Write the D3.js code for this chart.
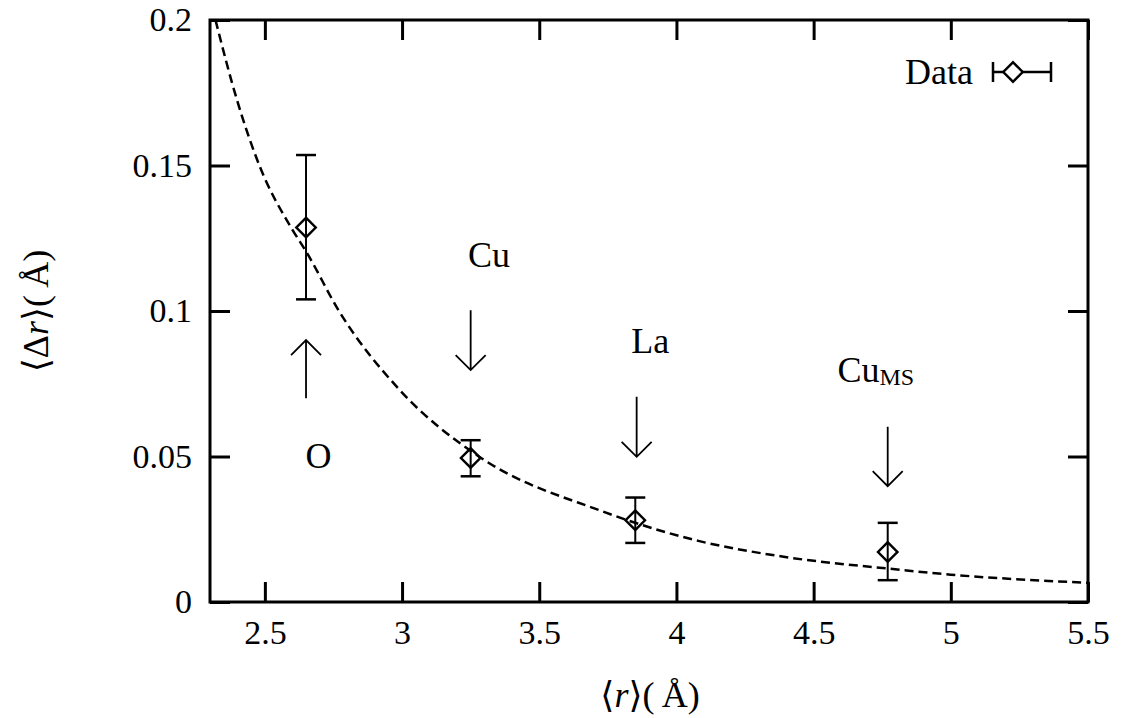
<!DOCTYPE html>
<html>
<head>
<meta charset="utf-8">
<script src="https://cdn.jsdelivr.net/npm/d3@7"></script>
<style>
  body { margin: 0; background: #fff; }
  svg text { fill: #000; }
</style>
</head>
<body>
<div class="chart"></div>
<script>
// data
var pointX = [2.65, 3.25, 3.85, 4.77];
var pointY = [0.1287, 0.0495, 0.0281, 0.0172];
var errLow = [0.104, 0.0432, 0.0203, 0.0075];
var errHigh = [0.1536, 0.0556, 0.0359, 0.0272];

// dashed fit curve, read point by point
var fitX = [2.32, 2.40, 2.48, 2.60, 2.65, 2.77, 2.99, 3.28, 3.72, 4.08, 4.38, 4.77, 5.00, 5.50];
var fitY = [0.200, 0.172, 0.150, 0.128, 0.1205, 0.100, 0.073, 0.050, 0.0315, 0.021, 0.0157, 0.0115, 0.0094, 0.0066];

var xTicks = [2.5, 3, 3.5, 4, 4.5, 5, 5.5];
var xTickLabels = ["2.5", "3", "3.5", "4", "4.5", "5", "5.5"];
var yTicks = [0, 0.05, 0.1, 0.15, 0.2];
var yTickLabels = ["0", "0.05", "0.1", "0.15", "0.2"];

// site annotations (data units)
var siteNames = ["O", "Cu", "La", "Cu"];
var siteSubs = ["", "", "", "MS"];
var siteLabelX = [2.648, 3.24, 3.835, 4.587];
var siteLabelY = [0.046, 0.1151, 0.0854, 0.0756];
var arrowX = [2.65, 3.25, 3.855, 4.77];
var arrowFrom = [0.070, 0.1003, 0.0705, 0.0602];
var arrowTo = [0.090, 0.0797, 0.0499, 0.0398];

var serif = "'Liberation Serif', 'DejaVu Serif', 'Times New Roman', 'Noto Serif', 'Nimbus Roman', 'FreeSerif', Times, serif";

var svgWidth = 1128;
var svgHeight = 718;
var margin = {top: 20, right: 40, bottom: 116, left: 210};
var width = svgWidth - margin.left - margin.right;
var height = svgHeight - margin.top - margin.bottom;

var svg = d3.select(".chart")
  .append("svg")
  .attr("width", svgWidth)
  .attr("height", svgHeight)
  .attr("font-family", serif);

var chartGroup = svg.append("g")
  .attr("transform", `translate(${margin.left},${margin.top})`);

var xScale = d3.scaleLinear().domain([2.3, 5.5]).range([0, width]);
var yScale = d3.scaleLinear().domain([0, 0.2]).range([height, 0]);

// axes, ticks pointing inwards on all four sides
var bottomAxis = d3.axisBottom(xScale).tickValues(xTicks)
  .tickFormat((d, i) => xTickLabels[i]).tickSizeInner(-20).tickSizeOuter(0).tickPadding(18);
var topAxis = d3.axisTop(xScale).tickValues(xTicks)
  .tickFormat("").tickSizeInner(-20).tickSizeOuter(0);
var leftAxis = d3.axisLeft(yScale).tickValues(yTicks)
  .tickFormat((d, i) => yTickLabels[i]).tickSizeInner(-20).tickSizeOuter(0).tickPadding(18);
var rightAxis = d3.axisRight(yScale).tickValues(yTicks)
  .tickFormat("").tickSizeInner(-20).tickSizeOuter(0);

function styleAxis(g) {
  g.attr("font-family", serif).attr("font-size", 34);
  g.select(".domain").remove();
  g.selectAll(".tick line").attr("stroke", "#000").attr("stroke-width", 3);
}

chartGroup.append("g").attr("transform", `translate(0, ${height})`).call(bottomAxis).call(styleAxis);
chartGroup.append("g").call(topAxis).call(styleAxis);
chartGroup.append("g").call(leftAxis).call(styleAxis);
chartGroup.append("g").attr("transform", `translate(${width}, 0)`).call(rightAxis).call(styleAxis);

chartGroup.append("rect")
  .attr("width", width).attr("height", height)
  .attr("fill", "none").attr("stroke", "#000").attr("stroke-width", 3);

// fit curve
chartGroup.append("clipPath").attr("id", "plotClip")
  .append("rect").attr("width", width).attr("height", height);

var fitLine = d3.line()
  .x(d => xScale(d[0]))
  .y(d => yScale(d[1]))
  .curve(d3.curveMonotoneX);

chartGroup.append("path")
  .datum(d3.zip(fitX, fitY))
  .attr("clip-path", "url(#plotClip)")
  .attr("d", fitLine)
  .attr("fill", "none")
  .attr("stroke", "#000")
  .attr("stroke-width", 2.5)
  .attr("stroke-dasharray", "9,5");

// error bars + diamonds
var points = pointX.map((x, i) => ({x: x, y: pointY[i], lo: errLow[i], hi: errHigh[i]}));
var diamond = d3.symbol().type(d3.symbolSquare).size(190);
var capW = 10;

var bars = chartGroup.selectAll(".err")
  .data(points)
  .enter()
  .append("g")
  .attr("class", "err")
  .attr("stroke", "#000")
  .attr("fill", "none");

bars.append("line")
  .attr("x1", d => xScale(d.x)).attr("x2", d => xScale(d.x))
  .attr("y1", d => yScale(d.lo)).attr("y2", d => yScale(d.hi))
  .attr("stroke-width", 2);
bars.append("line")
  .attr("x1", d => xScale(d.x) - capW).attr("x2", d => xScale(d.x) + capW)
  .attr("y1", d => yScale(d.hi)).attr("y2", d => yScale(d.hi))
  .attr("stroke-width", 2.5);
bars.append("line")
  .attr("x1", d => xScale(d.x) - capW).attr("x2", d => xScale(d.x) + capW)
  .attr("y1", d => yScale(d.lo)).attr("y2", d => yScale(d.lo))
  .attr("stroke-width", 2.5);
bars.append("path")
  .attr("d", diamond)
  .attr("transform", d => `translate(${xScale(d.x)},${yScale(d.y)}) rotate(45)`)
  .attr("stroke-width", 2.4);

// arrows and site labels
function arrowPath(i) {
  var x = xScale(arrowX[i]);
  var y0 = yScale(arrowFrom[i]);
  var y1 = yScale(arrowTo[i]);
  var dir = y1 > y0 ? -1 : 1;
  return `M${x},${y0}L${x},${y1}M${x - 15},${y1 + dir * 15}L${x},${y1}L${x + 15},${y1 + dir * 15}`;
}

chartGroup.selectAll(".arrow")
  .data(arrowX)
  .enter()
  .append("path")
  .attr("class", "arrow")
  .attr("d", (d, i) => arrowPath(i))
  .attr("fill", "none")
  .attr("stroke", "#000")
  .attr("stroke-width", 1.8);

var siteText = chartGroup.selectAll(".site")
  .data(siteNames)
  .enter()
  .append("text")
  .attr("class", "site")
  .attr("x", (d, i) => xScale(siteLabelX[i]))
  .attr("y", (d, i) => yScale(siteLabelY[i]))
  .attr("font-size", 36)
  .text(d => d);
siteText.append("tspan")
  .attr("font-size", 24)
  .attr("dy", 3)
  .text((d, i) => siteSubs[i]);

// legend
var legend = chartGroup.append("g").attr("transform", `translate(${width - 95}, 52)`);
legend.append("text")
  .attr("x", -20).attr("y", 12)
  .attr("text-anchor", "end")
  .attr("font-size", 36)
  .text("Data");
legend.append("path")
  .attr("d", "M0,0H58M0,-10V10M58,-10V10")
  .attr("stroke", "#000").attr("stroke-width", 2.5).attr("fill", "none");
legend.append("path")
  .attr("d", diamond)
  .attr("transform", "translate(20,0) rotate(45)")
  .attr("fill", "#fff").attr("stroke", "#000").attr("stroke-width", 2.4);

// axis labels
var yLabel = svg.append("text")
  .attr("transform", "translate(48, 311) rotate(-90)")
  .attr("text-anchor", "middle")
  .attr("font-size", 36);
yLabel.append("tspan").text("\u27E8\u0394");
yLabel.append("tspan").attr("font-style", "italic").text("r");
yLabel.append("tspan").text("\u27E9(\u2009\u00C5)");

var xLabel = svg.append("text")
  .attr("x", 650).attr("y", 707)
  .attr("text-anchor", "middle")
  .attr("font-size", 36);
xLabel.append("tspan").text("\u27E8");
xLabel.append("tspan").attr("font-style", "italic").text("r");
xLabel.append("tspan").text("\u27E9(\u2009\u00C5)");
</script>
</body>
</html>
